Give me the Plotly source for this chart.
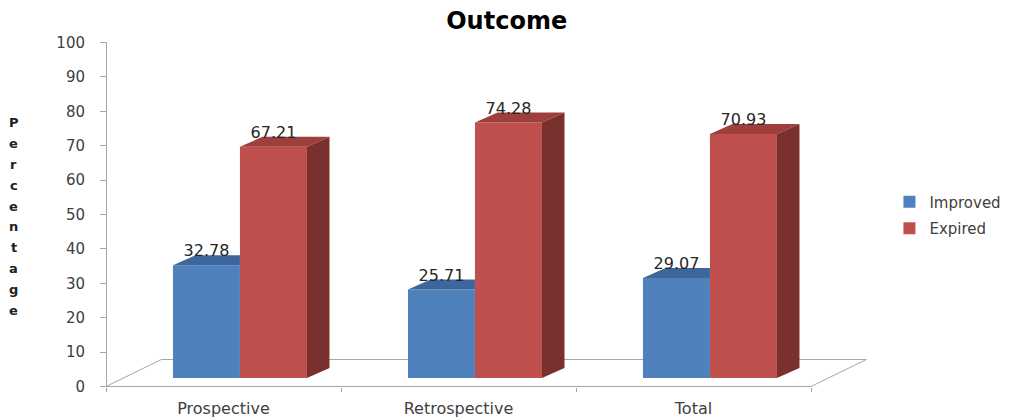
import plotly.graph_objects as go

# Outcome percentages by study group
categories = ["Prospective", "Retrospective", "Total"]
improved = [32.78, 25.71, 29.07]
expired = [67.21, 74.28, 70.93]
y_ticks = [0, 10, 20, 30, 40, 50, 60, 70, 80, 90, 100]

# Pseudo-3D geometry (in axis units)
BAR_W = 0.285          # width of each bar front face
GROUP_SHIFT = 0.07     # bars sit slightly right of the category centre (depth)
BAR_BASE = 2.47        # bars stand back from the floor's front edge
BAR_DX, BAR_DY = 0.096, 2.9        # bar depth offset
FLOOR_DX, FLOOR_DY = 0.236, 7.85   # floor depth offset
LABEL_DROP = 1.5       # value labels sit slightly into the bar's top face

BLUE, BLUE_TOP = "#4F81BD", "#3C669C"
RED, RED_TOP, RED_SIDE = "#C0504D", "#9F3F3C", "#7A302E"
TEXT = "#404040"
FONT = "DejaVu Sans"

n = len(categories)
blue_x = [i + 0.5 + GROUP_SHIFT - BAR_W / 2 for i in range(n)]
red_x = [i + 0.5 + GROUP_SHIFT + BAR_W / 2 for i in range(n)]

fig = go.Figure()

# Front faces
fig.add_trace(go.Bar(x=blue_x, y=improved, base=BAR_BASE, width=BAR_W, name="Improved",
                     marker=dict(color=BLUE, line=dict(width=0)), legendgroup="a",
                     hoverinfo="skip"))
fig.add_trace(go.Bar(x=red_x, y=expired, base=BAR_BASE, width=BAR_W, name="Expired",
                     marker=dict(color=RED, line=dict(width=0)), legendgroup="b",
                     hoverinfo="skip"))


def poly_trace(pts_list, color):
    xs, ys = [], []
    for pts in pts_list:
        for px, py in pts:
            xs.append(px)
            ys.append(py)
        xs.append(pts[0][0])
        ys.append(pts[0][1])
        xs.append(None)
        ys.append(None)
    return go.Scatter(x=xs, y=ys, mode="lines", fill="toself", fillcolor=color,
                      line=dict(width=0, color=color), showlegend=False, hoverinfo="skip")


# Blue tops (the part behind the neighbouring red bar is hidden)
blue_tops = []
for cx, v in zip(blue_x, improved):
    xl, xr, t = cx - BAR_W / 2, cx + BAR_W / 2, BAR_BASE + v
    blue_tops.append([(xl, t), (xr, t), (xr, t + BAR_DY), (xl + BAR_DX, t + BAR_DY)])
fig.add_trace(poly_trace(blue_tops, BLUE_TOP))

# Red tops and right-hand sides
red_tops, red_sides = [], []
for cx, v in zip(red_x, expired):
    xl, xr, t, b = cx - BAR_W / 2, cx + BAR_W / 2, BAR_BASE + v, BAR_BASE
    red_tops.append([(xl, t), (xr, t), (xr + BAR_DX, t + BAR_DY), (xl + BAR_DX, t + BAR_DY)])
    red_sides.append([(xr, b), (xr, t), (xr + BAR_DX, t + BAR_DY), (xr + BAR_DX, b + BAR_DY)])
fig.add_trace(poly_trace(red_tops, RED_TOP))
fig.add_trace(poly_trace(red_sides, RED_SIDE))

# Value labels
for xs, vals in ((blue_x, improved), (red_x, expired)):
    fig.add_trace(go.Scatter(
        x=xs, y=[BAR_BASE + v + BAR_DY - LABEL_DROP for v in vals], mode="text",
        text=[f"{v:.2f}" for v in vals], textposition="top center",
        textfont=dict(family=FONT, size=16, color="#262626"),
        showlegend=False, hoverinfo="skip", cliponaxis=False))

# Floor outline
floor_path = (f"M 0,0 L {n},0 L {n + FLOOR_DX},{FLOOR_DY} "
              f"L {FLOOR_DX},{FLOOR_DY} Z")
fig.add_shape(type="path", path=floor_path, xref="x", yref="y", layer="below",
              line=dict(color="#A6A6A6", width=1))

# Axis title, one letter per line
title_letters = "Percentage"
for k, ch in enumerate(title_letters):
    fig.add_annotation(text=f"<b>{ch}</b>", xref="paper", yref="paper",
                       x=-0.1018, y=(387 - (123 + 20.8 * k)) / 345,
                       xanchor="center", yanchor="middle", showarrow=False,
                       font=dict(family=FONT, size=13, color="#202020"))

xmin, xmax = -12 / 235, (880 - 106) / 235
fig.update_layout(
    width=1020, height=420,
    margin=dict(l=94, r=140, t=42, b=33, autoexpand=False),
    paper_bgcolor="white", plot_bgcolor="white",
    barmode="overlay",
    title=dict(text="<b>Outcome</b>", x=506.7 / 1020, xref="container", xanchor="center",
               y=1 - 21 / 420, yref="container", yanchor="middle",
               font=dict(family=FONT, size=24, color="#000000")),
    xaxis=dict(range=[xmin, xmax], tickvals=[i + 0.5 for i in range(n)], ticktext=categories,
               ticks="", showgrid=False, zeroline=False, showline=False, automargin=False,
               tickfont=dict(family=FONT, size=16, color=TEXT), ticklabelstandoff=10,
               minor=dict(tickvals=list(range(n + 1)), ticks="outside", ticklen=4,
                          tickcolor="#A6A6A6", showgrid=False)),
    yaxis=dict(range=[-0.15, 100.14], tickvals=y_ticks, ticks="outside", ticklen=6,
               tickcolor="#A6A6A6", showline=True, linecolor="#A6A6A6", linewidth=1,
               showgrid=False, zeroline=False, anchor="free", automargin=False,
               position=-xmin / (xmax - xmin),
               tickfont=dict(family=FONT, size=15, color=TEXT), ticklabelstandoff=12),
    legend=dict(x=1.012, xanchor="left", y=0.584, yanchor="top",
                font=dict(family=FONT, size=15, color=TEXT), tracegroupgap=4,
                traceorder="grouped", bgcolor="rgba(0,0,0,0)"),
    showlegend=True,
)

fig.write_html("out.html")
